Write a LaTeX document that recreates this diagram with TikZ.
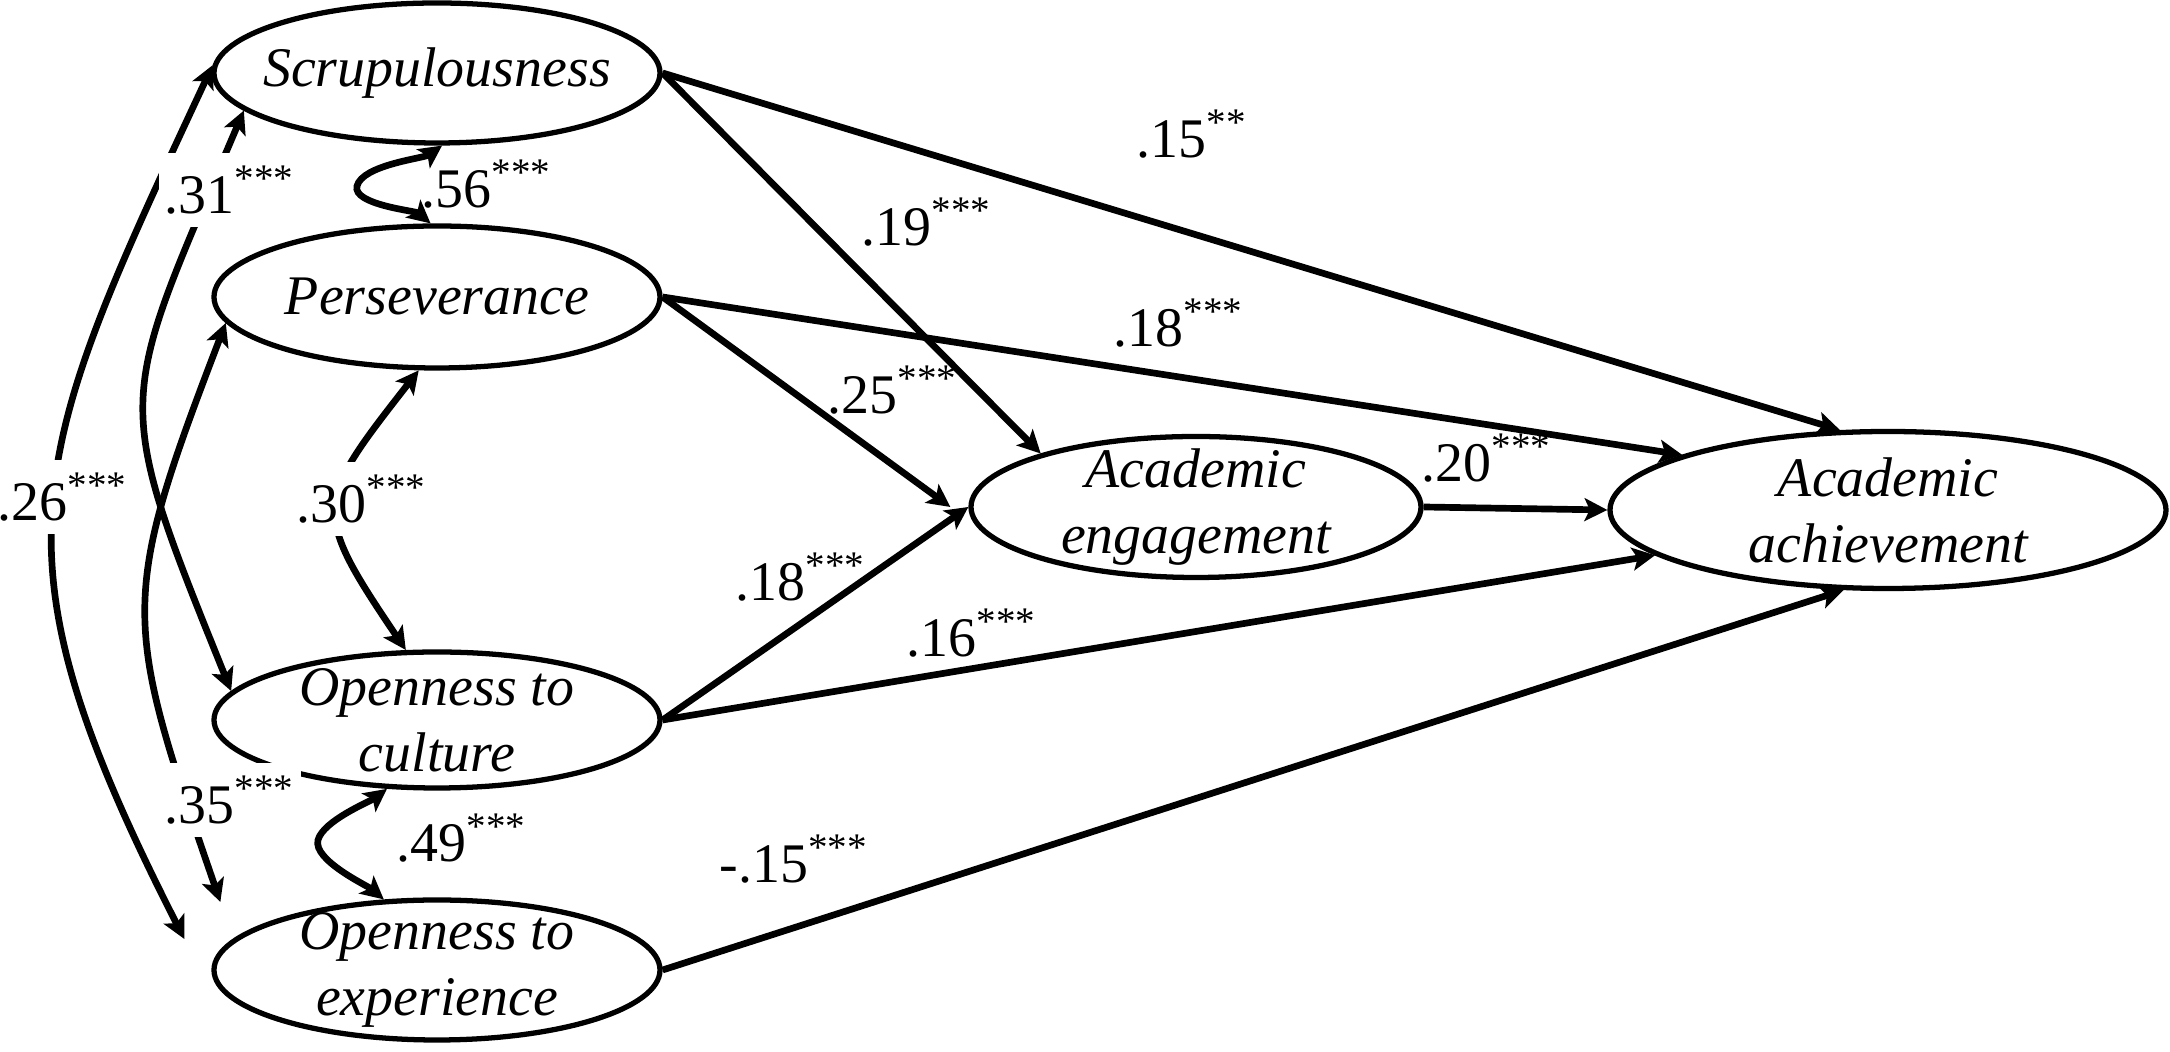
\documentclass[tikz,border=0pt]{standalone}
\usepackage{fontspec}
\setmainfont{Liberation Serif}
\usetikzlibrary{arrows.meta, shapes.geometric}

\begin{document}
\begin{tikzpicture}[
  lat/.style={draw, ellipse, line width=1.5pt, inner xsep=-0.3cm, inner ysep=-0.25cm,
    minimum width=4.46cm, minimum height=1.4cm, align=center,
    font=\fontsize{15.9}{18.8}\selectfont\itshape},
  reg/.style={-{Stealth[length=6.5pt, width=6.5pt, inset=1.5pt]}, line width=1.9pt},
  corr/.style={{Stealth[length=6.5pt, width=6.5pt, inset=1.5pt]}-{Stealth[length=6.5pt, width=6.5pt, inset=1.5pt]}, line width=1.9pt},
  coef/.style={font=\fontsize{15.9}{18.8}\selectfont, inner sep=1pt},
  coefw/.style={coef, fill=white, inner xsep=0.06cm, inner ysep=0.13cm},
]
\useasboundingbox (0,0) rectangle (21.7,-10.52);

\node[lat] (SC) at (4.37,-0.73) {Scrupulousness};
\node[lat, minimum height=1.42cm] (PE) at (4.37,-2.97) {Perseverance};
\node[lat, minimum height=1.36cm] (OC) at (4.37,-7.2) {Openness to\\culture};
\node[lat] (OE) at (4.37,-9.7) {Openness to\\experience};
\node[lat, minimum width=4.5cm, minimum height=1.41cm] (AE) at (11.96,-5.07) {Academic\\engagement};
\node[lat, minimum width=5.56cm, minimum height=1.57cm] (AA) at (18.88,-5.1) {Academic\\achievement};

\draw[reg] (SC.east) -- (AA.121);
\draw[reg] (SC.east) -- (AE.161);
\draw[reg] (PE.east) -- (AA.165);
\draw[reg] (PE.east) -- ([xshift=-0.18cm]AE.west);
\draw[reg] (OC.east) -- (AE.west);
\draw[reg] (OC.east) -- (AA.191);
\draw[reg] (OE.east) -- (AA.241);
\draw[reg] (AE.east) -- (AA.west);

\draw[corr] (SC.274) to[out=215, in=75, looseness=0.6] (3.57,-1.86) to[out=-105, in=140, looseness=0.6] (PE.95);
\draw[corr] (PE.256) .. controls +(232:1.7) and +(124:1.7) .. (OC.114);
\draw[corr] (OC.234) to[out=217, in=75, looseness=0.6] (3.18,-8.4) to[out=-105, in=140, looseness=0.6] (OE.127);
\draw[corr] (SC.178) .. controls +(245:4.39) and +(117:4.39) .. ([shift={(-0.27,0.31)}]OE.west);
\draw[corr] (SC.191) .. controls +(247:3.24) and +(112:3.24) .. (OC.172);
\draw[corr] (PE.187) .. controls +(249:3) and +(109:3) .. ([shift={(0.09,0.68)}]OE.west);

\node[coef] (c1) at (11.92,-1.34) {.15\textsuperscript{**}};
\node[coef] (c2) at (9.27,-2.22) {.19\textsuperscript{***}};
\node[coef] (c3) at (11.79,-3.23) {.18\textsuperscript{***}};
\node[coef] (c4) at (8.93,-3.9) {.25\textsuperscript{***}};
\node[coef] (c5) at (14.87,-4.58) {.20\textsuperscript{***}};
\node[coef] (c6) at (8.01,-5.77) {.18\textsuperscript{***}};
\node[coef] (c7) at (9.72,-6.33) {.16\textsuperscript{***}};
\node[coef] (c8) at (7.94,-8.59) {-.15\textsuperscript{***}};
\node[coef] (r1) at (4.87,-1.84) {.56\textsuperscript{***}};
\node[coef] (r2) at (4.62,-8.38) {.49\textsuperscript{***}};
\node[coefw] (r3) at (3.62,-4.99) {.30\textsuperscript{***}};
\node[coefw] (r4) at (2.3,-1.9) {.31\textsuperscript{***}};
\node[coefw] (r5) at (2.3,-8.0) {.35\textsuperscript{***}};
\node[coefw] (r6) at (0.63,-4.97) {.26\textsuperscript{***}};
\end{tikzpicture}
\end{document}
